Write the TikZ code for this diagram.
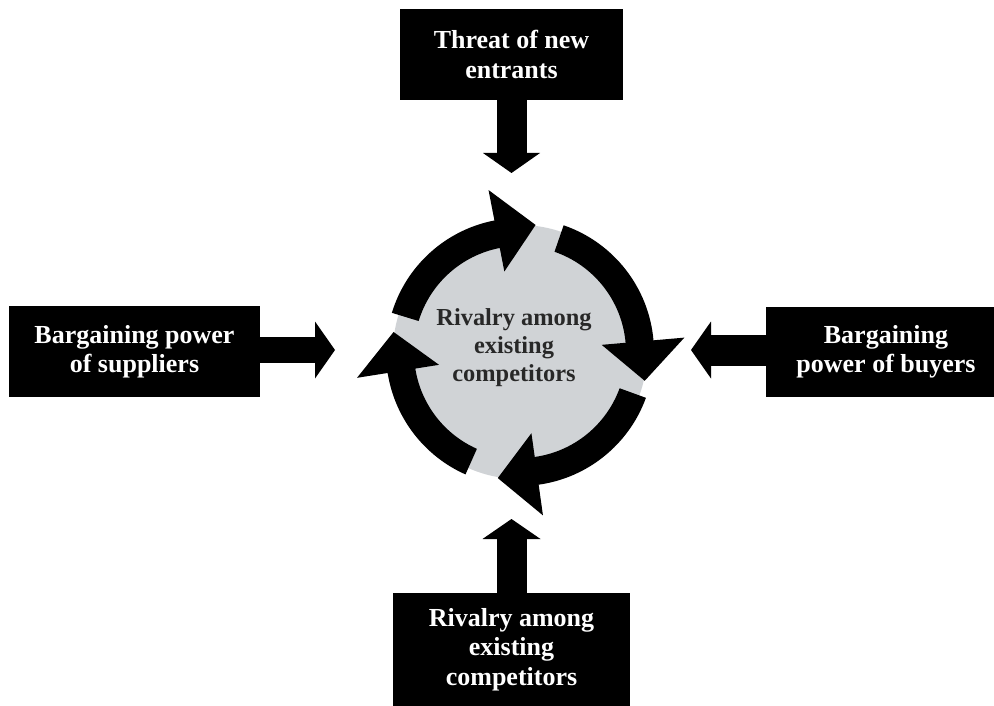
\documentclass[tikz,border=0pt]{standalone}
\usepackage{fontspec}
\setmainfont{Liberation Serif}
\definecolor{disk}{RGB}{208,211,214}
\definecolor{ctext}{RGB}{40,40,40}
\begin{document}
\begin{tikzpicture}[x=1pt,y=-1pt,
  box/.style={fill=black,text=white,inner sep=0pt,align=center,
    font=\bfseries\fontsize{26}{29.5}\selectfont},
  centertext/.style={text=ctext,inner sep=0pt,align=center,
    font=\bfseries\fontsize{24.4}{28}\selectfont},
  ringarrow/.style={fill=black},
  headfill/.style={fill=black}]
\useasboundingbox (0,0) rectangle (994,706);

% outer boxes
\node[box, minimum width=223pt, minimum height=91pt] (threat) at (511.5,54.5) {Threat of new\\entrants};
\node[box, minimum width=251pt, minimum height=91pt] (supp) at (134.5,351.5) {Bargaining power\\of suppliers};
\node[box, minimum width=240pt, minimum height=90pt] (buy) at (886,352) {Bargaining\\power of buyers};
\node[box, minimum width=237pt, minimum height=113pt] (riv) at (511.5,649.5) {Rivalry among\\existing\\competitors};

% ring
\begin{scope}[shift={(520,352)}]
  \fill[disk] (0,0) circle[radius=127pt];
  \foreach \a/\b/\c in {163/101/83, 71/5/-13, -20/-82/-100, -114/-171/-189} {
    \fill[ringarrow] (\a:134pt) arc[start angle=\a, end angle=\b, radius=134pt]
      -- (\b:165pt) -- (\c:128pt) -- (\b:82pt) -- (\b:106pt)
      arc[start angle=\b, end angle=\a, radius=106pt] -- cycle;
  }
\end{scope}
\node[centertext] (core) at (514,348) {Rivalry among\\existing\\competitors};

% block arrows
\coordinate (ttip) at (511.5,173);
\draw[line width=30pt, shorten >=19.5pt] (threat.south) -- (ttip);
\fill[headfill] (ttip) -- ++(-28.5,-20) -- ++(57,0) -- cycle;

\coordinate (btip) at (511.5,519);
\draw[line width=30pt, shorten >=19.5pt] (riv.north) -- (btip);
\fill[headfill] (btip) -- ++(-29,20) -- ++(58,0) -- cycle;

\coordinate (ltip) at (335,350);
\draw[line width=26pt, shorten >=19.5pt] (supp.east |- ltip) -- (ltip);
\fill[headfill] (ltip) -- ++(-20,-28.5) -- ++(0,57) -- cycle;

\coordinate (rtip) at (691,350);
\draw[line width=31pt, shorten >=19.5pt] (buy.west |- rtip) -- (rtip);
\fill[headfill] (rtip) -- ++(20,-28.5) -- ++(0,57) -- cycle;
\end{tikzpicture}
\end{document}
